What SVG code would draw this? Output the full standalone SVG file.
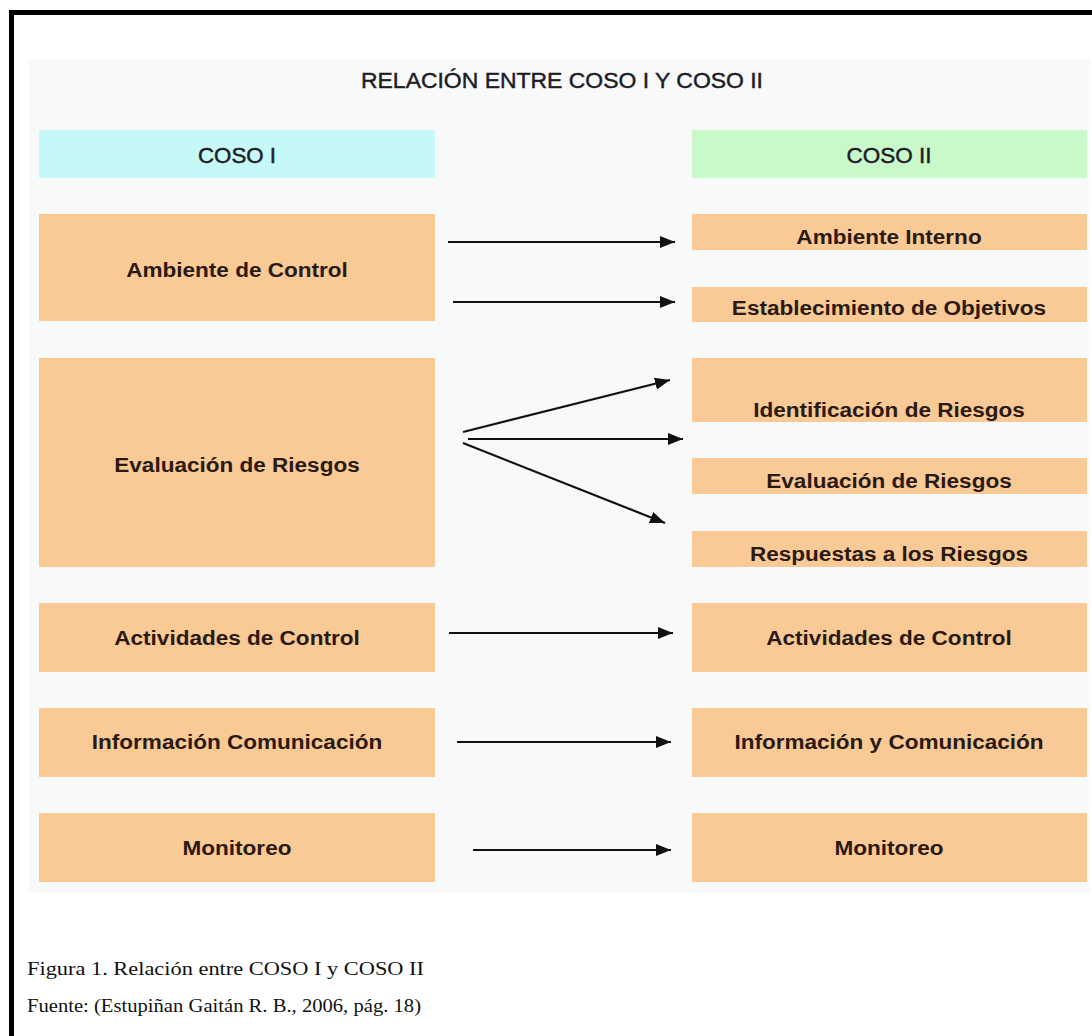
<svg xmlns="http://www.w3.org/2000/svg" width="1092" height="1036" viewBox="0 0 1092 1036">
<style>
.box{fill:#f9c996}
.lbl{font-family:"Liberation Sans",Arial,sans-serif;font-weight:bold;font-size:20.5px;fill:#2a1a12;text-anchor:middle}
.hdr{font-family:"Liberation Sans",Arial,sans-serif;font-size:22px;fill:#1e1c26;stroke:#1e1c26;stroke-width:0.45px;text-anchor:middle}
.cap{font-family:"Liberation Serif","Times New Roman",serif;font-size:19px;fill:#111}
.conn line{stroke:#111;stroke-width:2.2;marker-end:url(#ah)}
</style>
<defs>
<marker id="ah" markerUnits="userSpaceOnUse" markerWidth="16" markerHeight="14" refX="15" refY="7" orient="auto">
<path d="M0,1 L15,7 L0,13 z" fill="#111"/>
</marker>
</defs>
<rect x="0" y="0" width="1092" height="1036" fill="#ffffff"/>
<path d="M11.5,1036 V12.5 H1092" fill="none" stroke="#000" stroke-width="5"/>
<rect x="29" y="59" width="1061" height="834" fill="#f8fafa"/>
<g id="title"><text class="hdr" x="562" y="88" textLength="402" lengthAdjust="spacingAndGlyphs">RELACIÓN ENTRE COSO I Y COSO II</text></g>
<g id="coso1-header"><rect x="39" y="130" width="396" height="48" fill="#c6f8f8"/><text class="hdr" x="237" y="163" textLength="78" lengthAdjust="spacingAndGlyphs">COSO I</text></g>
<g id="coso2-header"><rect x="692" y="130" width="395" height="48" fill="#c9f8cb"/><text class="hdr" x="889" y="163" textLength="85" lengthAdjust="spacingAndGlyphs">COSO II</text></g>
<g id="l-ambiente"><rect class="box" x="39" y="214" width="396" height="107"/><text class="lbl" transform="translate(237,277) scale(1.1,1)">Ambiente de Control</text></g>
<g id="l-evaluacion"><rect class="box" x="39" y="358" width="396" height="209"/><text class="lbl" transform="translate(237,472) scale(1.1,1)">Evaluación de Riesgos</text></g>
<g id="l-actividades"><rect class="box" x="39" y="603" width="396" height="69"/><text class="lbl" transform="translate(237,645) scale(1.1,1)">Actividades de Control</text></g>
<g id="l-informacion"><rect class="box" x="39" y="708" width="396" height="69"/><text class="lbl" transform="translate(237,749) scale(1.1,1)">Información Comunicación</text></g>
<g id="l-monitoreo"><rect class="box" x="39" y="813" width="396" height="69"/><text class="lbl" transform="translate(237,855) scale(1.1,1)">Monitoreo</text></g>
<g id="r-ambiente"><rect class="box" x="692" y="214" width="395" height="36"/><text class="lbl" transform="translate(889,244) scale(1.1,1)">Ambiente Interno</text></g>
<g id="r-objetivos"><rect class="box" x="692" y="287" width="395" height="35"/><text class="lbl" transform="translate(889,315) scale(1.1,1)">Establecimiento de Objetivos</text></g>
<g id="r-identificacion"><rect class="box" x="692" y="358" width="395" height="64"/><text class="lbl" transform="translate(889,417) scale(1.1,1)">Identificación de Riesgos</text></g>
<g id="r-evaluacion"><rect class="box" x="692" y="458" width="395" height="36"/><text class="lbl" transform="translate(889,488) scale(1.1,1)">Evaluación de Riesgos</text></g>
<g id="r-respuestas"><rect class="box" x="692" y="531" width="395" height="36"/><text class="lbl" transform="translate(889,561) scale(1.1,1)">Respuestas a los Riesgos</text></g>
<g id="r-actividades"><rect class="box" x="692" y="603" width="395" height="69"/><text class="lbl" transform="translate(889,645) scale(1.1,1)">Actividades de Control</text></g>
<g id="r-informacion"><rect class="box" x="692" y="708" width="395" height="69"/><text class="lbl" transform="translate(889,749) scale(1.1,1)">Información y Comunicación</text></g>
<g id="r-monitoreo"><rect class="box" x="692" y="813" width="395" height="69"/><text class="lbl" transform="translate(889,855) scale(1.1,1)">Monitoreo</text></g>
<g id="connectors" class="conn">
<line x1="448" y1="242" x2="675" y2="242"/>
<line x1="453" y1="302" x2="675" y2="302"/>
<line x1="463" y1="432" x2="670" y2="380"/>
<line x1="468" y1="439" x2="683" y2="439"/>
<line x1="463" y1="443" x2="665" y2="523"/>
<line x1="449" y1="633" x2="673" y2="633"/>
<line x1="457" y1="742" x2="671" y2="742"/>
<line x1="473" y1="850" x2="671" y2="850"/>
</g>
<g id="caption">
<text class="cap" x="27" y="975" textLength="397" lengthAdjust="spacingAndGlyphs">Figura 1. Relación entre COSO I y COSO II</text>
<text class="cap" x="27" y="1012" textLength="394" lengthAdjust="spacingAndGlyphs">Fuente: (Estupiñan Gaitán R. B., 2006, pág. 18)</text>
</g>
</svg>
